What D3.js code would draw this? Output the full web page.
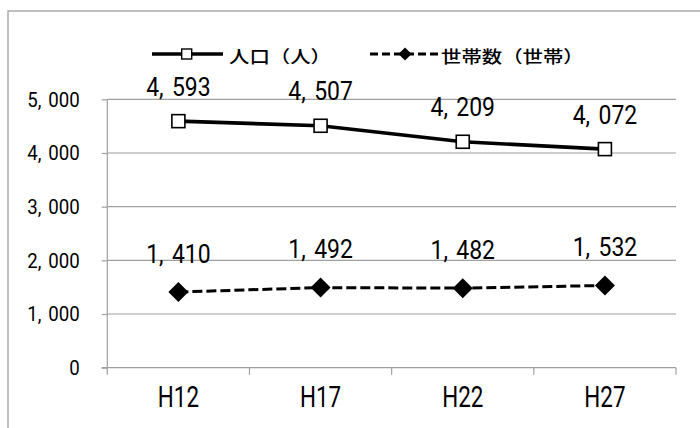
<!DOCTYPE html>
<html><head><meta charset="utf-8">
<script src="https://cdn.jsdelivr.net/npm/d3@7"></script>
<style>body{margin:0;background:#fff}</style>
</head><body><svg id="c" width="700" height="428" xmlns="http://www.w3.org/2000/svg"></svg>
<script>
const categories = ["H12", "H17", "H22", "H27"];
const population = [4593, 4507, 4209, 4072];
const households = [1410, 1492, 1482, 1532];
const yTicks = [0, 1000, 2000, 3000, 4000, 5000];
const seriesNames = ["人口（人）", "世帯数（世帯）"];

const svg = d3.select("#c");
const SANS = "Roboto, 'Liberation Sans', sans-serif";
const CJK = "'Noto Sans CJK JP', 'Noto Sans', sans-serif";
const grid = "#a0a0a0";
const fmt = d3.format(",");

// outer frame (clipped by the canvas on right and bottom)
svg.append("rect").attr("x", 8).attr("y", 11).attr("width", 760).attr("height", 500)
  .attr("fill", "none").attr("stroke", "#a6a6a6").attr("stroke-width", 1.4);

const x = d3.scaleBand().domain(categories).range([107.3, 676]).padding(0);
const y = d3.scaleLinear().domain([0, 5000]).range([367.7, 99.3]);
const cx = c => x(c) + x.bandwidth() / 2;

function txt(g, px, py, s, fs, sx, anchor, fam, weight) {
  return g.append("text")
    .attr("transform", `translate(${px},${py}) scale(${sx},1)`)
    .attr("font-family", fam).attr("font-size", fs).attr("font-weight", weight || 400)
    .attr("text-anchor", anchor).attr("fill", "#000").text(s);
}
// number with the wide comma cell of the original's monospaced Japanese font
function num(g, px, py, v, fs, sx, gap, anchor) {
  const s = fmt(v), k = s.indexOf(",");
  const t = g.append("text")
    .attr("transform", `translate(${px},${py}) scale(${sx},1)`)
    .attr("font-family", SANS).attr("font-size", fs)
    .attr("text-anchor", anchor).attr("fill", "#000");
  if (k < 0) { t.text(s); return t; }
  t.append("tspan").text(s.slice(0, k + 1));
  t.append("tspan").attr("dx", gap).text(s.slice(k + 1));
  return t;
}

// gridlines
svg.append("g").selectAll("line").data(yTicks.filter(d => d > 0)).join("line")
  .attr("x1", 107.3).attr("x2", 676).attr("y1", d => y(d)).attr("y2", d => y(d))
  .attr("stroke", grid).attr("stroke-width", 1.2);

// y axis
const yAxis = d3.axisLeft(y).tickValues(yTicks).tickSize(5.6).tickFormat("");
const yg = svg.append("g").attr("transform", "translate(107.3,0)").call(yAxis);
yg.selectAll("path,line").attr("stroke", grid).attr("stroke-width", 1.2);
yg.select(".domain").attr("d", `M0,${y(0)}V${y(5000)}`);
yTicks.forEach(t => num(svg, 79.8, y(t) + 7.2, t, 20.1, 0.93, 7.3, "end"));

// x axis
svg.append("line").attr("x1", 101.7).attr("x2", 676).attr("y1", y(0)).attr("y2", y(0))
  .attr("stroke", grid).attr("stroke-width", 1.2);
const bounds = categories.map(c => x(c)).concat([x.range()[1]]);
svg.append("g").selectAll("line").data(bounds).join("line")
  .attr("x1", d => d).attr("x2", d => d).attr("y1", y(0)).attr("y2", y(0) + 7)
  .attr("stroke", grid).attr("stroke-width", 1.2);
categories.forEach(c => txt(svg, cx(c), 407, c, 29.5, 0.76, "middle", SANS));

// households (dashed, diamonds)
const line = d3.line().x((d, i) => cx(categories[i])).y(d => y(d));
svg.append("path").datum(households).attr("d", line).attr("fill", "none")
  .attr("stroke", "#000").attr("stroke-width", 3).attr("stroke-dasharray", "10,4");
const diamond = (px, py, r) => `M${px},${py - r}L${px + r},${py}L${px},${py + r}L${px - r},${py}Z`;
svg.append("g").selectAll("path").data(households).join("path")
  .attr("d", (d, i) => diamond(cx(categories[i]), y(d), 10)).attr("fill", "#000");
households.forEach((v, i) => num(svg, cx(categories[i]), y(v) - 29.5, v, 26.7, 0.86, 9.8, "middle"));

// population (solid, squares)
svg.append("path").datum(population).attr("d", line).attr("fill", "none")
  .attr("stroke", "#000").attr("stroke-width", 3.6);
svg.append("g").selectAll("rect").data(population).join("rect")
  .attr("x", (d, i) => cx(categories[i]) - 6.5).attr("y", d => y(d) - 6.5)
  .attr("width", 13).attr("height", 13).attr("fill", "#fff").attr("stroke", "#000").attr("stroke-width", 1.6);
population.forEach((v, i) => num(svg, cx(categories[i]), y(v) - 25.5, v, 26.7, 0.86, 9.8, "middle"));

// legend
const lg = svg.append("g");
lg.append("line").attr("x1", 152).attr("x2", 223).attr("y1", 54).attr("y2", 54)
  .attr("stroke", "#000").attr("stroke-width", 3.6);
lg.append("rect").attr("x", 181.7).attr("y", 49).attr("width", 10).attr("height", 10)
  .attr("fill", "#fff").attr("stroke", "#000").attr("stroke-width", 1.4);
txt(lg, 229, 62.5, seriesNames[0], 17, 1.2, "start", CJK, 500);
lg.append("line").attr("x1", 370).attr("x2", 440).attr("y1", 54).attr("y2", 54)
  .attr("stroke", "#000").attr("stroke-width", 3).attr("stroke-dasharray", "8,4");
lg.append("path").attr("d", diamond(405, 54, 6.5)).attr("fill", "#000");
txt(lg, 441, 62.5, seriesNames[1], 17, 1.2, "start", CJK, 500);
</script></body></html>
